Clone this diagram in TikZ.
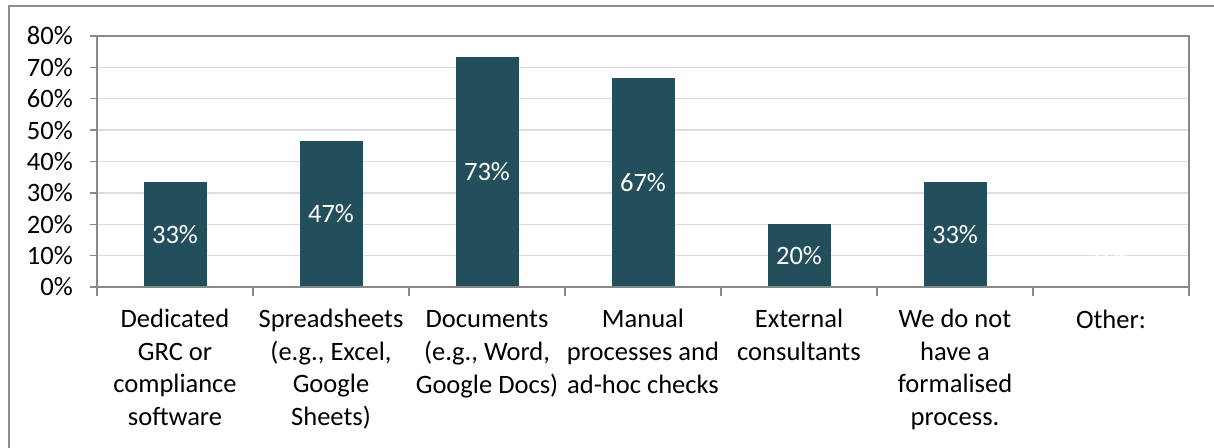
\documentclass[tikz,border=0pt]{standalone}
\usepackage{fontspec}
\setmainfont{Carlito}
\definecolor{barfill}{HTML}{234E5C}
\definecolor{axisgray}{HTML}{898989}
\definecolor{gridgray}{HTML}{DDDDDD}
\definecolor{framegray}{HTML}{8E8E8E}
\begin{document}
\begin{tikzpicture}[x=0.75pt,y=-0.75pt,
  chartfont/.style={font=\fontsize{19.9}{24.4}\selectfont},
  outerframe/.style={draw=framegray,line width=1.5pt},
  gridline/.style={draw=gridgray,line width=1.1pt},
  axisline/.style={draw=axisgray,line width=1.5pt},
  tickline/.style={draw=axisgray,line width=1.1pt},
  barshape/.style={fill=barfill,draw=none},
  vallabel/.style={chartfont,text=white,inner sep=0pt},
  ylabel/.style={chartfont,anchor=east,inner sep=0pt},
  catlabel/.style={chartfont,anchor=base,align=center,inner sep=0pt}]
\useasboundingbox (0,0) rectangle (1214,447);
\clip (0,0) rectangle (1214,447);
\draw[outerframe] (9,6) rectangle (1240,470);
% gridlines
\foreach \v in {1,...,7}{
  \pgfmathsetmacro\yy{287-31.375*\v}
  \draw[gridline] (97,\yy) -- (1189,\yy);
}
% bars
\foreach \i/\p/\t/\ly in {1/33.333/33\%/0,2/46.667/47\%/0,3/73.333/73\%/0,4/66.667/67\%/0,5/20/20\%/0,6/33.333/33\%/0,7/0/0\%/1}{
  \pgfmathsetmacro\cx{97+156*(\i-0.5)}
  \pgfmathsetmacro\top{287-3.1375*\p}
  \pgfmathsetmacro\mid{\ly>0 ? 255 : (\top+287)/2}
  \fill[barshape] (\cx-31.5,\top) rectangle (\cx+31.5,287);
  \node[vallabel] (v\i) at (\cx,\mid) {\t};
}
% plot area border and axes
\draw[axisline] (97,36) -- (1189,36) -- (1189,287);
\draw[axisline] (97,36) -- (97,287) -- (1189,287);
% y ticks and labels
\foreach \v in {0,...,8}{
  \pgfmathsetmacro\yy{287-31.375*\v}
  \draw[tickline] (90,\yy) -- (97,\yy);
  \pgfmathtruncatemacro\pc{10*\v}
  \node[ylabel] (y\v) at (73,\yy) {\pc\%};
}
% x ticks
\foreach \k in {0,...,7}{
  \pgfmathsetmacro\xx{97+156*\k}
  \draw[tickline] (\xx,287) -- (\xx,296);
}
% category labels (base = baseline of last line; first line baseline at 328, step 32.5)
\node[catlabel] (c1) at (175,425.5) {Dedicated\\GRC or\\compliance\\software};
\node[catlabel] (c2) at (331,425.5) {Spreadsheets\\(e.g., Excel,\\Google\\Sheets)};
\node[catlabel] (c3) at (487,393) {Documents\\(e.g., Word,\\Google Docs)};
\node[catlabel] (c4) at (643,393) {Manual\\processes and\\ad-hoc checks};
\node[catlabel] (c5) at (799,360.5) {External\\consultants};
\node[catlabel] (c6) at (955,425.5) {We do not\\have a\\formalised\\process.};
\node[catlabel] (c7) at (1111,328) {Other:};
\end{tikzpicture}
\end{document}
